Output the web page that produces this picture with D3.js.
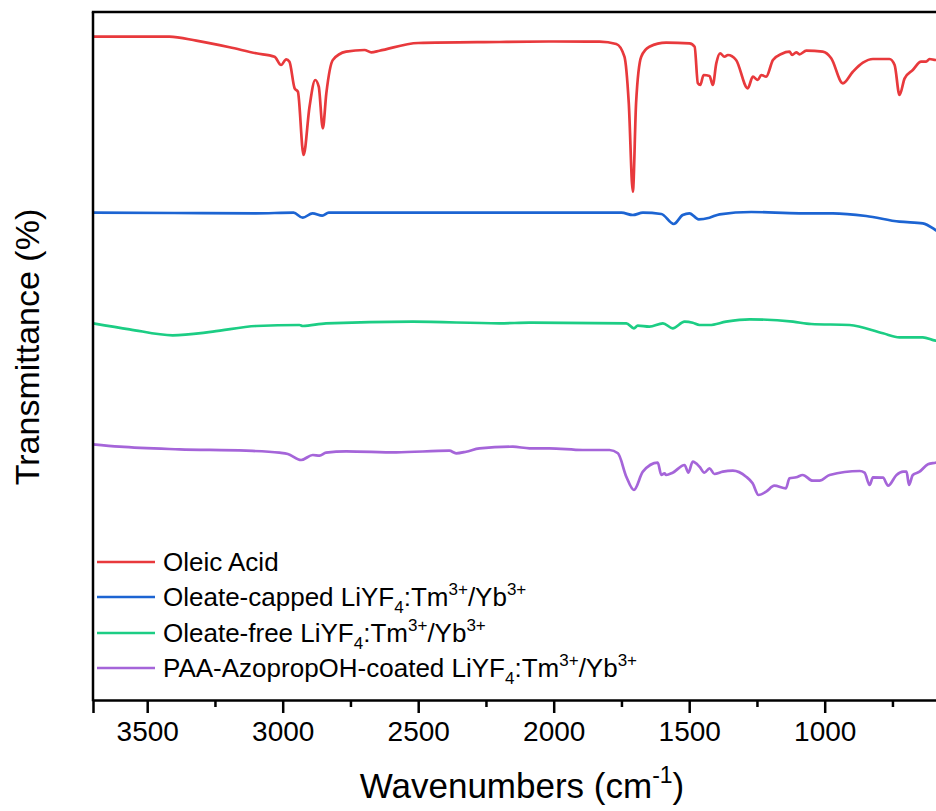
<!DOCTYPE html>
<html><head><meta charset="utf-8">
<script src="https://cdn.jsdelivr.net/npm/d3@7"></script>
<style>body{margin:0;background:#fff}svg{display:block}</style></head>
<body>
<svg id="c" width="936" height="811"></svg>
<script>
// Wavenumber (cm-1), offset transmittance (arbitrary units)
const oleicAcid = [[3700,663.3],[3418,663.3],[3319,659.3],[3196,652.7],[3098,646.7],[3030,643.3],[3006,635],[2987,640.7],[2975,638.3],[2956,611.7],[2944,608.3],[2923,545],[2901,593.3],[2880,620],[2867,613.3],[2852,571.7],[2839,606.7],[2815,640],[2766,648.3],[2698,650],[2673,647.7],[2643,649.3],[2500,657],[2200,658],[2000,658.5],[1831,658.3],[1769,656],[1739,643.3],[1723,597],[1708,508.3],[1696,597],[1677,643.3],[1647,653.3],[1585,657.3],[1499,656.7],[1480,653.3],[1468,616.7],[1459,615],[1447,625],[1425,624],[1413,615],[1400,636.7],[1386,646.7],[1370,643.3],[1357,645],[1327,640],[1284,611.7],[1265,623.3],[1247,620],[1234,625],[1216,623.3],[1191,640],[1160,646],[1130,648.3],[1120,645],[1105,647.7],[1093,645.7],[1068,649.3],[1007,648.3],[976,641.7],[933,616.7],[896,628.3],[859,637.3],[822,641],[761,641],[742,635],[724,605],[705,621.7],[675,630],[644,638.3],[626,638.3],[613,641],[591,640],[580,640]];
const oleateCapped = [[3700,487.3],[3400,487],[3100,486.7],[2960,487.3],[2926,482.3],[2890,486.7],[2854,484.3],[2830,487.3],[2500,487.3],[2000,487.3],[1750,487.3],[1708,485],[1671,487.3],[1603,486],[1557,476],[1524,485],[1499,486.7],[1465,480.7],[1425,482.3],[1388,485.7],[1271,488],[1093,486.7],[970,486.7],[847,484],[724,478.3],[638,476.7],[591,470],[580,468]];
const oleateFree = [[3700,376.7],[3565,370.7],[3406,364.7],[3258,368.3],[3098,374],[2938,375],[2926,374],[2840,376.7],[2520,378.3],[2200,376.7],[2089,377.3],[1732,376.7],[1704,371.7],[1690,374.3],[1647,373.3],[1597,376.7],[1561,371.7],[1517,378.3],[1487,377.3],[1462,375],[1425,375],[1364,378.3],[1277,380.7],[1117,378.3],[1050,376],[908,375],[785,366.7],[724,362.7],[638,362.7],[591,359.3],[580,359]];
const paaCoated = [[3700,255.7],[3602,253.3],[3381,250.7],[3135,249.3],[3012,247.3],[2981,246],[2932,240],[2889,245],[2864,244.3],[2840,247.3],[2766,248.7],[2581,247.7],[2385,249.3],[2360,246.7],[2323,248.3],[2274,251.7],[2151,253.3],[2089,251.7],[2016,251.7],[1893,250],[1794,250],[1763,246.7],[1732,223.3],[1704,210],[1671,228.3],[1616,237.3],[1603,225],[1591,226.7],[1585,225],[1561,227.3],[1517,235],[1503,227.3],[1487,238.3],[1462,233.3],[1444,227.3],[1425,231.7],[1407,226],[1376,228.3],[1339,229.3],[1290,223.3],[1266,216.7],[1244,205],[1216,208.3],[1186,214.3],[1143,211.7],[1130,221.7],[1105,222.7],[1081,225],[1044,219.3],[1019,219.3],[982,225],[871,229],[853,227.3],[834,215],[822,222.7],[785,222.3],[766,214.3],[735,225],[711,228.3],[698,228.3],[689,215],[675,225],[650,228.3],[619,235.7],[591,237.3],[580,238]];

const seriesNames = ["Oleic Acid","Oleate-capped","Oleate-free","PAA-AzopropOH-coated"];
const seriesColors = ["#e8393c","#1c64d2","#1ccd84","#a565d9"];
const seriesData = [oleicAcid, oleateCapped, oleateFree, paaCoated];
const majorTicks = [3500,3000,2500,2000,1500,1000];
const minorTicks = [3250,2750,2250,1750,1250,750];
const xTitle = "Wavenumbers (cm";
const yTitle = "Transmittance (%)";

const font = "'Liberation Sans', Arial, sans-serif";
const svg = d3.select("#c");
const pL = 93, pB = 700, pT = 12;
const x = d3.scaleLinear().domain([3700, 400]).range([pL, pL + 3300*0.271]);
const y = d3.scaleLinear().domain([0, 688]).range([pB, pT]);

svg.append("clipPath").attr("id","pc").append("rect")
  .attr("x", pL).attr("y", pT).attr("width", x(400)-pL).attr("height", pB-pT);

const line = d3.line().x(d => x(d[0])).y(d => y(d[1])).curve(d3.curveMonotoneX);
const g = svg.append("g").attr("clip-path","url(#pc)");
seriesData.forEach((s,i) => {
  g.append("path").datum(s).attr("d", line).attr("fill","none")
    .attr("stroke", seriesColors[i]).attr("stroke-width", 2.7).attr("stroke-linejoin","round");
});

// bottom axis
const ax = svg.append("g").attr("transform", `translate(0,${pB})`)
  .call(d3.axisBottom(x).tickValues(majorTicks).tickSize(13).tickPadding(8).tickFormat(d3.format("d")));
ax.select(".domain").attr("stroke","#000").attr("stroke-width",2.5);
ax.selectAll(".tick line").attr("stroke","#000").attr("stroke-width",2.5);
ax.selectAll(".tick text").attr("font-family",font).attr("font-size",28).attr("fill","#000");
const axm = svg.append("g").attr("transform", `translate(0,${pB})`)
  .call(d3.axisBottom(x).tickValues(minorTicks).tickSize(7).tickFormat(""));
axm.select(".domain").remove();
axm.selectAll(".tick line").attr("stroke","#000").attr("stroke-width",2.5);

// frame
svg.append("line").attr("x1",pL).attr("x2",pL).attr("y1",pT).attr("y2",pB+1.2)
  .attr("stroke","#000").attr("stroke-width",2.5);
svg.append("line").attr("x1",pL-1.2).attr("x2",x(400)).attr("y1",pT).attr("y2",pT)
  .attr("stroke","#000").attr("stroke-width",2.5);

// titles
const xt = svg.append("text").attr("x", 522).attr("y", 798).attr("text-anchor","middle")
  .attr("font-family",font).attr("font-size",35).attr("fill","#000");
xt.append("tspan").text(xTitle);
xt.append("tspan").attr("font-size",23).attr("dy",-15).text("-1");
xt.append("tspan").attr("dy",15).text(")");
svg.append("text").attr("transform","translate(39,347) rotate(-90)").attr("text-anchor","middle")
  .attr("font-family",font).attr("font-size",34).attr("fill","#000").text(yTitle);

// legend
const rowY = [562, 597, 633, 668];
const suffix = [false, true, true, true];
seriesNames.forEach((n,i) => {
  svg.append("line").attr("x1",97).attr("x2",155).attr("y1",rowY[i]).attr("y2",rowY[i])
    .attr("stroke",seriesColors[i]).attr("stroke-width",2.6);
  const t = svg.append("text").attr("x",163).attr("y",rowY[i]+9).attr("font-family",font)
    .attr("font-size",26).attr("fill","#000");
  if (!suffix[i]) { t.text(n); return; }
  t.append("tspan").text(n + " LiYF");
  t.append("tspan").attr("font-size",17).attr("dy",7).text("4");
  t.append("tspan").attr("dy",-7).text(":Tm");
  t.append("tspan").attr("font-size",17).attr("dy",-11).text("3+");
  t.append("tspan").attr("dy",11).text("/Yb");
  t.append("tspan").attr("font-size",17).attr("dy",-11).text("3+");
});
</script>
</body></html>
